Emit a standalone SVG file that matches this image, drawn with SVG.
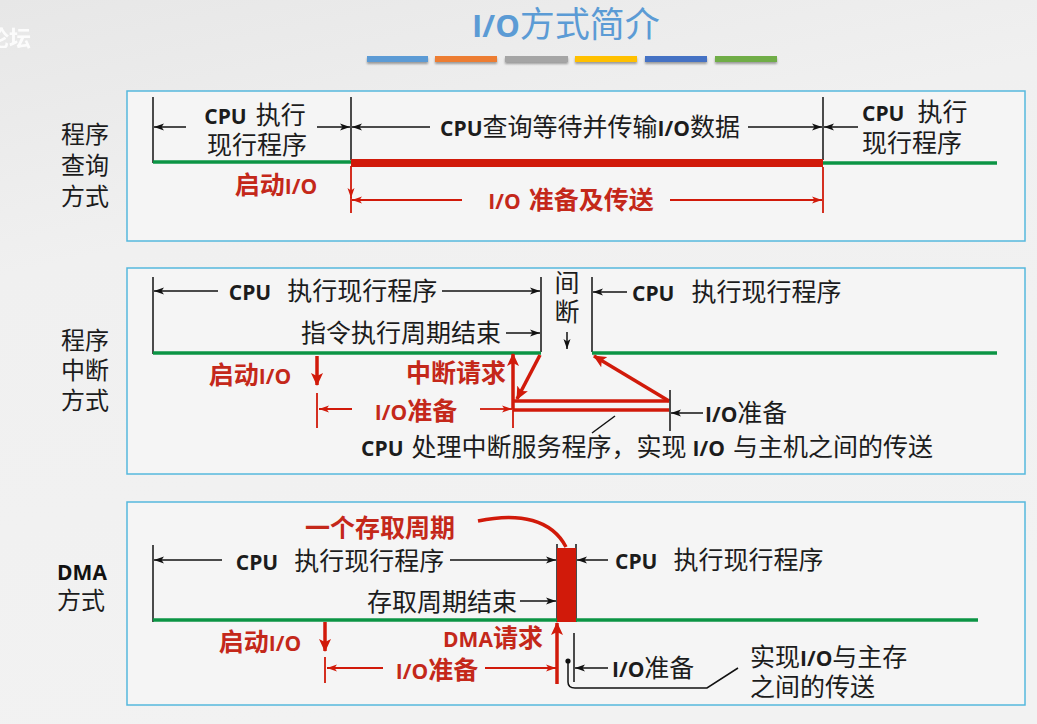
<svg xmlns="http://www.w3.org/2000/svg" width="1037" height="724" viewBox="0 0 1037 724">
  <defs>
    <linearGradient id="bg" x1="0" y1="0" x2="0.3" y2="1">
      <stop offset="0" stop-color="#e7e7e7"/>
      <stop offset="0.35" stop-color="#f0f0f0"/>
      <stop offset="1" stop-color="#f2f2f2"/>
    </linearGradient>
    <filter id="sh" x="-5%" y="-50%" width="110%" height="250%">
      <feGaussianBlur in="SourceAlpha" stdDeviation="1.2"/>
      <feOffset dx="0" dy="2" result="b"/>
      <feComponentTransfer><feFuncA type="linear" slope="0.35"/></feComponentTransfer>
      <feMerge><feMergeNode/><feMergeNode in="SourceGraphic"/></feMerge>
    </filter>
    <!-- thin black dimension arrowhead -->
    <marker id="ak" viewBox="0 0 10 8" refX="10" refY="4" markerWidth="10" markerHeight="8" markerUnits="userSpaceOnUse" orient="auto">
      <path d="M0,0.5 L10,4 L0,7.5 L2.5,4z" fill="#111"/>
    </marker>
    <!-- thin red dimension arrowhead -->
    <marker id="ar" viewBox="0 0 10 8" refX="10" refY="4" markerWidth="10" markerHeight="8" markerUnits="userSpaceOnUse" orient="auto">
      <path d="M0,0.5 L10,4 L0,7.5 L2.5,4z" fill="#d11a0a"/>
    </marker>
    <!-- heavy red signal arrowhead -->
    <marker id="aR" viewBox="0 0 13 12" refX="12" refY="6" markerWidth="13" markerHeight="12" markerUnits="userSpaceOnUse" orient="auto">
      <path d="M0,0 L13,6 L0,12 L3,6z" fill="#d11a0a"/>
    </marker>
  </defs>
  <style>
    .pnl { fill:#f5f5f5; stroke:#55b8dd; stroke-width:1.5 }
    .k { stroke:#111; stroke-width:1.5; fill:none }
    .g { stroke:#0b9444; stroke-width:3.5; fill:none }
    .r { stroke:#d11a0a; stroke-width:1.8; fill:none }
    .rt { stroke:#d11a0a; stroke-width:3.5; fill:none }
    .rb { fill:#d11a0a }
    .t { font-family:"Noto Sans CJK SC","Noto Sans",sans-serif; font-size:25px; fill:#1c1c1c }
    .en { font-family:"Open Sans","Liberation Sans",sans-serif; font-weight:700; font-size:21px }
    .red { fill:#c4281a; font-weight:700 }
    .side { font-family:"Noto Sans CJK SC",sans-serif; font-size:24px; fill:#1c1c1c; text-anchor:middle }
  </style>

  <rect width="1037" height="724" fill="url(#bg)"/>

  <!-- site watermark -->
  <text x="-13" y="46" font-family="Noto Sans CJK SC,sans-serif" font-size="22" font-weight="700" fill="#ffffff" opacity="0.9">论坛</text>

  <!-- heading -->
  <g id="title">
    <text x="566" y="37" text-anchor="middle" font-family="Noto Sans CJK SC,sans-serif" font-size="35" fill="#5b9bd5"><tspan font-family="Open Sans,Liberation Sans,sans-serif" font-weight="700" font-size="31">I/O</tspan>方式简介</text>
  </g>
  <g id="color-bars" filter="url(#sh)">
    <rect x="367" y="56" width="61" height="6" fill="#5b9bd5"/>
    <rect x="435" y="56" width="62" height="6" fill="#ed7d31"/>
    <rect x="505" y="56" width="63" height="6" fill="#a5a5a5"/>
    <rect x="575" y="56" width="62" height="6" fill="#ffc000"/>
    <rect x="645" y="56" width="62" height="6" fill="#4472c4"/>
    <rect x="715" y="56" width="62" height="6" fill="#70ad47"/>
  </g>

  <!-- ===== programmed polling ===== -->
  <g id="polling">
    <rect class="pnl" x="127" y="91" width="898" height="150"/>
    <g id="polling-label">
      <text class="side" x="85" y="143">程序</text>
      <text class="side" x="85" y="174">查询</text>
      <text class="side" x="85" y="205">方式</text>
    </g>
    <g id="polling-connectors">
      <line class="k" x1="153" y1="97" x2="153" y2="163"/>
      <line class="k" x1="351" y1="97" x2="351" y2="160"/>
      <line class="k" x1="823" y1="97" x2="823" y2="160"/>
      <line class="g" x1="153" y1="162" x2="351" y2="162"/>
      <rect class="rb" x="351" y="159" width="472" height="8"/>
      <line class="g" x1="823" y1="163" x2="997" y2="163"/>
      <line class="r" x1="351" y1="166" x2="351" y2="198" marker-end="url(#ar)"/>
      <line class="r" x1="351" y1="197" x2="351" y2="213"/>
      <line class="r" x1="823" y1="167" x2="823" y2="213"/>
      <line class="k" x1="186" y1="127" x2="154" y2="127" marker-end="url(#ak)"/>
      <line class="k" x1="317" y1="127" x2="350" y2="127" marker-end="url(#ak)"/>
      <line class="k" x1="430" y1="127" x2="352" y2="127" marker-end="url(#ak)"/>
      <line class="k" x1="748" y1="127" x2="822" y2="127" marker-end="url(#ak)"/>
      <line class="k" x1="858" y1="127" x2="824" y2="127" marker-end="url(#ak)"/>
      <line class="r" x1="462" y1="200" x2="352" y2="200" marker-end="url(#ar)"/>
      <line class="r" x1="670" y1="200" x2="822" y2="200" marker-end="url(#ar)"/>
    </g>
    <g id="polling-text">
      <text class="t" x="255" y="124" text-anchor="middle"><tspan class="en">CPU</tspan><tspan dx="9">执行</tspan></text>
      <text class="t" x="257" y="154" text-anchor="middle">现行程序</text>
      <text class="t" x="590" y="136" text-anchor="middle"><tspan class="en">CPU</tspan>查询等待并传输<tspan class="en">I/O</tspan>数据</text>
      <text class="t" x="862" y="121"><tspan class="en">CPU</tspan><tspan dx="13">执行</tspan></text>
      <text class="t" x="862" y="152">现行程序</text>
      <text class="t red" x="276" y="194" text-anchor="middle">启动<tspan class="en">I/O</tspan></text>
      <text class="t red" x="571" y="209" text-anchor="middle"><tspan class="en">I/O</tspan><tspan dx="8">准备及传送</tspan></text>
    </g>
  </g>

  <!-- ===== programmed interrupt ===== -->
  <g id="interrupt">
    <rect class="pnl" x="127" y="268" width="898" height="206"/>
    <g id="interrupt-label">
      <text class="side" x="85" y="349">程序</text>
      <text class="side" x="85" y="379">中断</text>
      <text class="side" x="85" y="409">方式</text>
    </g>
    <g id="interrupt-connectors">
      <line class="k" x1="153" y1="277" x2="153" y2="354"/>
      <line class="k" x1="541" y1="277" x2="541" y2="352"/>
      <line class="k" x1="592" y1="277" x2="592" y2="352"/>
      <line class="g" x1="153" y1="353" x2="541" y2="353"/>
      <line class="g" x1="592" y1="353" x2="997" y2="353"/>
      <line class="k" x1="218" y1="291" x2="154" y2="291" marker-end="url(#ak)"/>
      <line class="k" x1="442" y1="291" x2="540" y2="291" marker-end="url(#ak)"/>
      <line class="k" x1="506" y1="333" x2="540" y2="333" marker-end="url(#ak)"/>
      <line class="k" x1="567" y1="332" x2="567" y2="349" stroke-width="1.2" marker-end="url(#ak)"/>
      <line class="k" x1="627" y1="292" x2="593" y2="292" marker-end="url(#ak)"/>
      <!-- start I/O, I/O prepare span -->
      <line class="rt" x1="317" y1="356" x2="317" y2="385" stroke-width="3" marker-end="url(#aR)"/>
      <line class="r" x1="317" y1="393" x2="317" y2="428"/>
      <line class="r" x1="352" y1="409" x2="319" y2="409" marker-end="url(#ar)"/>
      <line class="r" x1="480" y1="409" x2="512" y2="409" marker-end="url(#ar)"/>
      <line class="r" x1="513" y1="409" x2="513" y2="428"/>
      <!-- interrupt request and service routine -->
      <line class="rt" x1="513" y1="409" x2="513" y2="354" marker-end="url(#aR)"/>
      <line class="rt" x1="540" y1="355" x2="517" y2="399" marker-end="url(#aR)"/>
      <line class="rt" x1="513" y1="401" x2="669" y2="401"/>
      <line class="rt" x1="513" y1="410" x2="669" y2="410" stroke-width="6"/>
      <line class="rt" x1="669" y1="401" x2="594" y2="356" marker-end="url(#aR)"/>
      <line class="k" x1="670" y1="390" x2="670" y2="431"/>
      <line class="k" x1="703" y1="413" x2="671" y2="413" marker-end="url(#ak)"/>
      <line class="k" x1="592" y1="433" x2="615" y2="416"/>
    </g>
    <g id="interrupt-text">
      <text class="t" x="333" y="300" text-anchor="middle"><tspan class="en">CPU</tspan><tspan dx="16">执行现行程序</tspan></text>
      <text class="t" x="401" y="342" text-anchor="middle">指令执行周期结束</text>
      <text class="t" x="567" y="292" text-anchor="middle" font-size="22">间</text>
      <text class="t" x="567" y="321" text-anchor="middle" font-size="22">断</text>
      <text class="t" x="632" y="301"><tspan class="en">CPU</tspan><tspan dx="17">执行现行程序</tspan></text>
      <text class="t red" x="250" y="384" text-anchor="middle">启动<tspan class="en">I/O</tspan></text>
      <text class="t red" x="456" y="382" text-anchor="middle">中断请求</text>
      <text class="t red" x="416" y="420" text-anchor="middle"><tspan class="en">I/O</tspan>准备</text>
      <text class="t" x="705" y="422"><tspan class="en">I/O</tspan>准备</text>
      <text class="t" x="647" y="456" text-anchor="middle" font-size="26.5"><tspan class="en">CPU</tspan><tspan dx="8">处理中断服务程序，实现</tspan><tspan class="en" dx="6">I/O</tspan><tspan dx="8">与主机之间的传送</tspan></text>
    </g>
  </g>

  <!-- ===== DMA ===== -->
  <g id="dma">
    <rect class="pnl" x="127" y="502" width="898" height="203"/>
    <g id="dma-label">
      <text x="82" y="580" text-anchor="middle" font-family="Open Sans,Liberation Sans,sans-serif" font-weight="700" font-size="21" fill="#111">DMA</text>
      <text class="side" x="81" y="609">方式</text>
    </g>
    <g id="dma-connectors">
      <line class="k" x1="153" y1="545" x2="153" y2="622"/>
      <line class="k" x1="557" y1="544" x2="557" y2="622"/>
      <line class="k" x1="576" y1="544" x2="576" y2="622"/>
      <line class="g" x1="153" y1="620" x2="557" y2="620"/>
      <line class="g" x1="576" y1="620" x2="978" y2="620"/>
      <rect class="rb" x="557" y="548" width="19" height="74"/>
      <path class="rt" d="M478,521 C520,512 552,520 566,547" stroke-width="3"/>
      <line class="k" x1="222" y1="560" x2="154" y2="560" marker-end="url(#ak)"/>
      <line class="k" x1="450" y1="560" x2="556" y2="560" marker-end="url(#ak)"/>
      <line class="k" x1="520" y1="601" x2="556" y2="601" marker-end="url(#ak)"/>
      <line class="k" x1="608" y1="560" x2="577" y2="560" marker-end="url(#ak)"/>
      <!-- start I/O, I/O prepare span, DMA request -->
      <line class="rt" x1="325" y1="622" x2="325" y2="651" stroke-width="3" marker-end="url(#aR)"/>
      <line class="r" x1="325" y1="657" x2="325" y2="683"/>
      <line class="r" x1="383" y1="668" x2="327" y2="668" marker-end="url(#ar)"/>
      <line class="r" x1="485" y1="668" x2="556" y2="668" marker-end="url(#ar)"/>
      <line class="rt" x1="557" y1="684" x2="557" y2="623" stroke-width="3" marker-end="url(#aR)"/>
      <!-- transfer leader -->
      <line class="k" x1="574" y1="633" x2="574" y2="682"/>
      <line class="k" x1="608" y1="668" x2="575" y2="668" marker-end="url(#ak)"/>
      <circle cx="568" cy="661" r="2.6" fill="#111"/>
      <path class="k" d="M568,661 L568,682 Q568,688 575,688 L707,688 L738,668"/>
    </g>
    <g id="dma-text">
      <text class="t red" x="380" y="537" text-anchor="middle" font-size="26">一个存取周期</text>
      <text class="t" x="340" y="570" text-anchor="middle"><tspan class="en">CPU</tspan><tspan dx="16">执行现行程序</tspan></text>
      <text class="t" x="442" y="611" text-anchor="middle">存取周期结束</text>
      <text class="t" x="615" y="569"><tspan class="en">CPU</tspan><tspan dx="16">执行现行程序</tspan></text>
      <text class="t red" x="260" y="651" text-anchor="middle">启动<tspan class="en">I/O</tspan></text>
      <text class="t red" x="493" y="647" text-anchor="middle"><tspan class="en">DMA</tspan>请求</text>
      <text class="t red" x="437" y="679" text-anchor="middle"><tspan class="en">I/O</tspan>准备</text>
      <text class="t" x="612" y="677"><tspan class="en">I/O</tspan>准备</text>
      <text class="t" x="750" y="666">实现<tspan class="en">I/O</tspan>与主存</text>
      <text class="t" x="750" y="696">之间的传送</text>
    </g>
  </g>
</svg>
